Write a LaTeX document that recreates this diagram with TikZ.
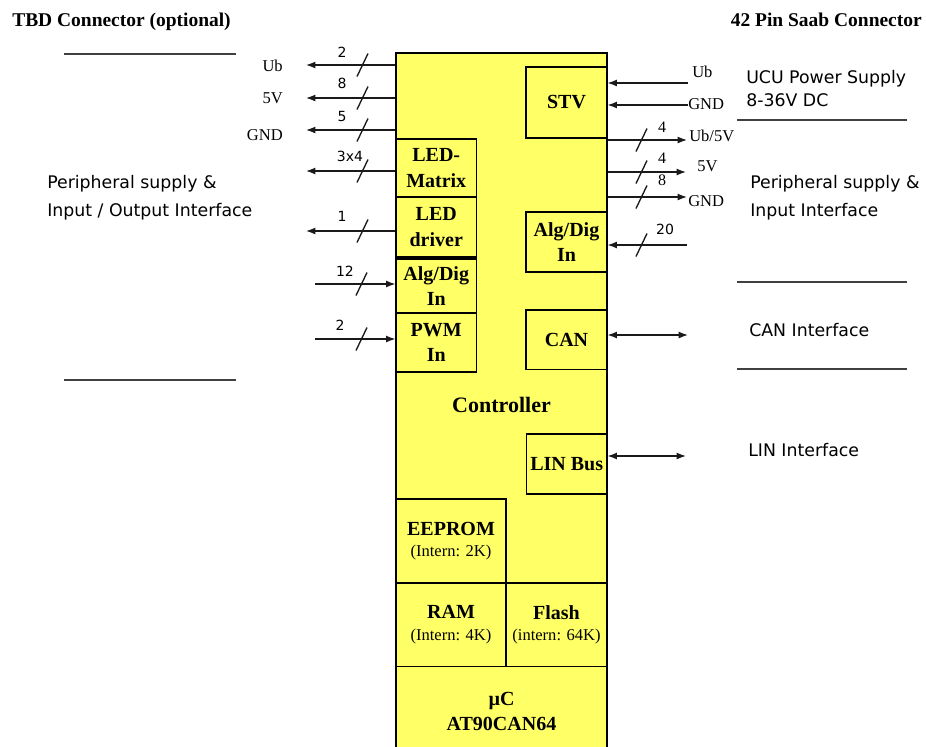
\documentclass[tikz,border=0pt]{standalone}
\usepackage{fontspec}
\setmainfont{Liberation Serif}
\newfontfamily\sansf{DejaVu Sans}
\usetikzlibrary{arrows.meta}
\definecolor{yel}{HTML}{FFFF66}
\definecolor{wirec}{HTML}{1A1A1A}
\definecolor{rulec}{HTML}{404040}
\begin{document}
\begin{tikzpicture}[x=0.75pt,y=-0.75pt,
  box/.style={draw=black, fill=yel, line width=0.8pt, inner sep=0pt, rectangle},
  blbl/.style={font=\bfseries\fontsize{15}{19}\selectfont, align=center},
  memlbl/.style={font=\fontsize{12.4}{16.2}\selectfont, align=center},
  wire/.style={line width=1pt, draw=wirec},
  arr/.style={wire, -{Latex[length=7pt,width=5.2pt]}},
  darr/.style={wire, {Latex[length=7pt,width=5.2pt]}-{Latex[length=7pt,width=5.2pt]}},
  sig/.style={font=\fontsize{12.4}{14}\selectfont, inner sep=0pt},
  num/.style={font=\sansf\fontsize{10.5}{12}\selectfont, inner sep=0pt},
  rnum/.style={font=\fontsize{12}{14}\selectfont, inner sep=0pt},
  big/.style={font=\sansf\fontsize{13}{15}\selectfont, inner sep=0pt},
  hdr/.style={font=\bfseries\fontsize{14.6}{17}\selectfont, inner sep=0pt},
  rulel/.style={line width=0.9pt, draw=rulec},
  busmark/.pic={\draw[wire] (-5.5,11.5) -- (5.5,-11.5);}
]
\useasboundingbox (0,0) rectangle (926,747);

% headers
\node[hdr, anchor=base west] (hl) at (12,26.7) {TBD Connector (optional)};
\node[hdr, anchor=base east] (hr) at (922,26.7) {42 Pin Saab Connector};

% main block
\node[box, minimum width=158.25pt, minimum height=527.25pt,
      font=\bfseries\fontsize{16.5}{19}\selectfont] (main) at (501.5,404.5) {Controller};

% inner boxes
\node[box, blbl, minimum width=60.75pt, minimum height=53.25pt] (stv) at (566.5,102.5) {STV};
\node[box, blbl, minimum width=60.75pt, minimum height=45pt] (adr) at (566.5,242) {Alg/Dig\\In};
\node[box, blbl, minimum width=60.75pt, minimum height=44.6pt] (can) at (566.5,339.75) {CAN};
\node[box, blbl, minimum width=60.4pt, minimum height=45pt] (lin) at (566.75,464) {LIN Bus};
\node[box, blbl, minimum width=60.4pt, minimum height=43.5pt] (ledm) at (436.25,168) {LED-\\Matrix};
\node[box, blbl, minimum width=60.4pt, minimum height=45pt] (ledd) at (436.25,227) {LED\\driver};
\node[box, blbl, minimum width=60.4pt, minimum height=40.5pt] (adl) at (436.25,286) {Alg/Dig\\In};
\node[box, blbl, minimum width=60.4pt, minimum height=44.25pt] (pwm) at (436.25,342.5) {PWM\\In};
\node[box, memlbl, minimum width=82.5pt, minimum height=63pt] (eep) at (451,541)
  {{\bfseries\fontsize{15}{16.2}\selectfont EEPROM}\\(Intern: 2K)};
\node[box, memlbl, minimum width=82.5pt, minimum height=62.6pt] (ram) at (451,624.75)
  {{\bfseries\fontsize{15}{16.2}\selectfont RAM}\\(Intern: 4K)};
\node[box, memlbl, minimum width=75.75pt, minimum height=62.6pt] (flash) at (556.5,624.75)
  {{\bfseries\fontsize{15}{16.2}\selectfont Flash}\\(intern: 64K)};
\node[box, blbl, minimum width=158.25pt, minimum height=67.1pt] (uc) at (501.5,711.25) {µC\\AT90CAN64};

% left side connectors
\coordinate (tUb) at (306,65);
\coordinate (t5V) at (306,98);
\coordinate (tGND) at (306,130);
\coordinate (tLM) at (306,171);
\coordinate (tLD) at (306,231);
\coordinate (sAD) at (315,284);
\coordinate (sPWM) at (315,339);
\draw[arr] (main.west |- tUb) -- (tUb);
\draw[arr] (main.west |- t5V) -- (t5V);
\draw[arr] (main.west |- tGND) -- (tGND);
\draw[arr] (ledm.west |- tLM) -- (tLM);
\draw[arr] (ledd.west |- tLD) -- (tLD);
\draw[arr] (sAD) -- (adl.west |- sAD);
\draw[arr] (sPWM) -- (pwm.west |- sPWM);
\pic at (362.5,65) {busmark};
\pic at (362.5,98) {busmark};
\pic at (362.5,130) {busmark};
\pic at (362.5,171) {busmark};
\pic at (362.5,231) {busmark};
\pic at (361.5,284) {busmark};
\pic at (361.5,339) {busmark};
\node[num, anchor=base] (n1) at (342,57.3) {2};
\node[num, anchor=base] (n2) at (342,88.3) {8};
\node[num, anchor=base] (n3) at (342,121.7) {5};
\node[num, anchor=base] (n4) at (350,161.7) {3x4};
\node[num, anchor=base] (n5) at (342,221.7) {1};
\node[num, anchor=base] (n6) at (345,276.7) {12};
\node[num, anchor=base] (n7) at (340,330) {2};
\node[sig, anchor=base east] (lUb) at (283,71) {Ub};
\node[sig, anchor=base east] (l5V) at (283,103) {5V};
\node[sig, anchor=base east] (lGND) at (283,140) {GND};

% right side connectors
\coordinate (sUb) at (688,83);
\coordinate (sGND) at (688,105);
\coordinate (tUb5) at (687,140);
\coordinate (t5Vr) at (686,172);
\coordinate (tGNDr) at (687,197);
\coordinate (s20) at (687,245);
\coordinate (cCAN) at (688,335);
\coordinate (cLIN) at (686,456);
\draw[arr] (sUb) -- (stv.east |- sUb);
\draw[arr] (sGND) -- (stv.east |- sGND);
\draw[arr] (main.east |- tUb5) -- (tUb5);
\draw[arr] (main.east |- t5Vr) -- (t5Vr);
\draw[arr] (main.east |- tGNDr) -- (tGNDr);
\draw[arr] (s20) -- (adr.east |- s20);
\draw[darr] (can.east |- cCAN) -- (cCAN);
\draw[darr] (lin.east |- cLIN) -- (cLIN);
\pic at (641.5,140) {busmark};
\pic at (641.5,172) {busmark};
\pic at (641.5,197) {busmark};
\pic at (641.5,245) {busmark};
\node[rnum, anchor=base] (m1) at (662,132.7) {4};
\node[rnum, anchor=base] (m2) at (662,163.3) {4};
\node[rnum, anchor=base] (m3) at (662,185) {8};
\node[num, anchor=base] (m4) at (665,234) {20};
\node[sig, anchor=base west] (rUb) at (692,77.5) {Ub};
\node[sig, anchor=base west] (rGND) at (688,109.3) {GND};
\node[sig, anchor=base west] (rUb5) at (689,141.7) {Ub/5V};
\node[sig, anchor=base west] (r5V) at (697,171.5) {5V};
\node[sig, anchor=base west] (rGND2) at (688,206.7) {GND};

% interface descriptions
\node[big, anchor=base west] (d1) at (746,83.3) {UCU Power Supply};
\node[big, anchor=base west] (d2) at (746,106.7) {8-36V DC};
\node[big, anchor=base west] (d3) at (750,188.3) {Peripheral supply \&};
\node[big, anchor=base west] (d4) at (750,216.7) {Input Interface};
\node[big, anchor=base west] (d5) at (749,336) {CAN Interface};
\node[big, anchor=base west] (d6) at (748,456) {LIN Interface};
\node[big, anchor=base west] (d7) at (47,188.3) {Peripheral supply \&};
\node[big, anchor=base west] (d8) at (47,216) {Input / Output Interface};

% separator rules
\draw[rulel] (737,120) -- (907,120);
\draw[rulel] (737,282) -- (907,282);
\draw[rulel] (737,369) -- (907,369);
\draw[rulel] (64,54) -- (236,54);
\draw[rulel] (64,380) -- (236,380);
\end{tikzpicture}
\end{document}
